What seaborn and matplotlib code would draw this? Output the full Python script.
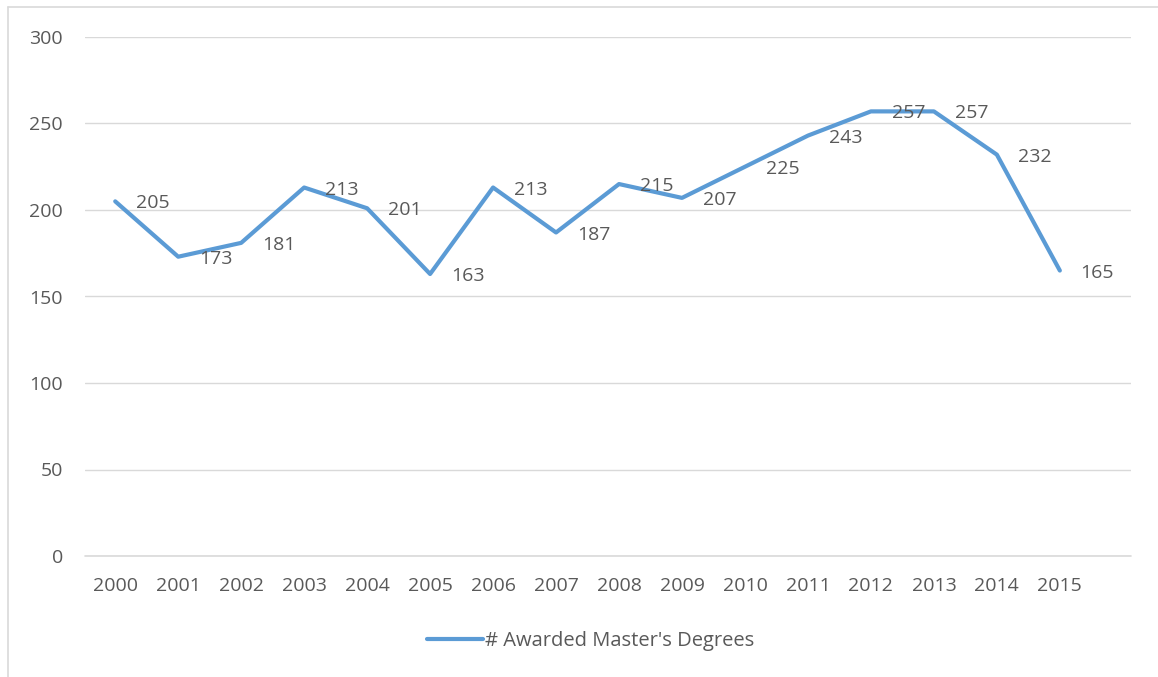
import matplotlib.pyplot as plt
import seaborn as sns
import pandas as pd
from matplotlib.lines import Line2D

# data
years = ["2000", "2001", "2002", "2003", "2004", "2005", "2006", "2007",
         "2008", "2009", "2010", "2011", "2012", "2013", "2014", "2015"]
degrees = [205, 173, 181, 213, 201, 163, 213, 187, 215, 207, 225, 243, 257, 257, 232, 165]
series_name = "# Awarded Master's Degrees"

df = pd.DataFrame({"year": years, "value": degrees})
df["pos"] = range(len(df))

sns.set_style("white")
plt.rcParams["font.family"] = ["Open Sans", "DejaVu Sans"]

line_color = "#5B9BD5"
text_color = "#595959"
grid_color = "#D9D9D9"
fs = 14

fig = plt.figure(figsize=(11.58, 6.77), dpi=100)
W, H = 1158, 677
ax = fig.add_axes([85 / W, 1 - 556 / H, (1131 - 85) / W, (556 - 37) / H])

sns.lineplot(data=df, x="pos", y="value", ax=ax, color=line_color,
             linewidth=3, legend=False, zorder=3)

for p, v in zip(df["pos"], df["value"]):
    ax.annotate(str(v), (p, v), xytext=(15, -1.5), textcoords="offset points",
                ha="left", va="center", fontsize=fs, color=text_color, zorder=4)

ax.set_ylim(0, 300)
ax.set_yticks(range(0, 301, 50))
ax.set_xlim(-0.48, 16.13)
ax.set_xticks(df["pos"])
ax.set_xticklabels(years)
ax.set_xlabel("")
ax.set_ylabel("")
ax.grid(axis="y", color=grid_color, linewidth=1)
ax.grid(axis="x", visible=False)
ax.axhline(0, color=grid_color, linewidth=1.2, clip_on=False)
for s in ax.spines.values():
    s.set_visible(False)
ax.tick_params(axis="y", length=0, pad=16, labelsize=fs, labelcolor=text_color)
ax.tick_params(axis="x", length=0, pad=15, labelsize=fs, labelcolor=text_color)

handle = Line2D([0], [0], color=line_color, linewidth=3, solid_capstyle="round")
fig.legend([handle], [series_name], loc="center", bbox_to_anchor=(0.51, 1 - 641 / H),
           frameon=False, fontsize=14.5, labelcolor=text_color,
           handlelength=2.8, handletextpad=0.1)

# light frame around the chart area
fig.add_artist(Line2D([8 / W, 8 / W], [0, 1 - 7 / H], color=grid_color, linewidth=1.2,
                      transform=fig.transFigure))
fig.add_artist(Line2D([8 / W, 1], [1 - 7 / H, 1 - 7 / H], color=grid_color, linewidth=1.2,
                      transform=fig.transFigure))

fig.savefig("out.png", dpi=100)
